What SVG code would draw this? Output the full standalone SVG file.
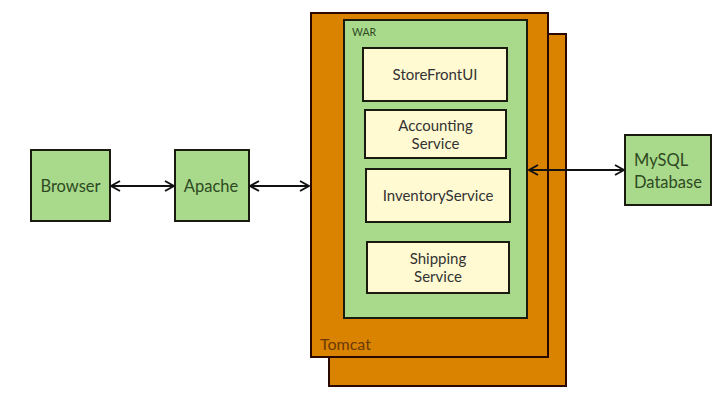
<svg xmlns="http://www.w3.org/2000/svg" width="715" height="418" viewBox="0 0 715 418">
<style>
.tc{fill:#d98300;stroke:#2a0800;stroke-width:2}
.gn{fill:#a9d98b;stroke:#1a1a10;stroke-width:2}
.cr{fill:#fffad2;stroke:#1a1a10;stroke-width:2}
.t{font-family:Lato,"Open Sans",sans-serif;font-size:15px;fill:#333;text-anchor:middle}
.tg{font-family:Lato,"Open Sans",sans-serif;font-size:16.5px;fill:#2e4a22;text-anchor:middle}
.tg.l{text-anchor:start}
.c{stroke:#111;stroke-width:2;fill:none;marker-start:url(#a);marker-end:url(#a)}
</style>
<defs>
<marker id="a" viewBox="0 0 12 12" refX="11" refY="6" markerWidth="12" markerHeight="12" markerUnits="userSpaceOnUse" orient="auto-start-reverse">
<polyline points="2,1 11,6 2,11" fill="none" stroke="#111" stroke-width="2"/>
</marker>
</defs>
<rect width="715" height="418" fill="#fff"/>
<g id="tomcat-back"><rect class="tc" x="329" y="34" width="237" height="352"/></g>
<g id="tomcat"><rect class="tc" x="311" y="13" width="237" height="344"/>
<text x="320" y="350" font-family="Lato,'Open Sans',sans-serif" font-size="16" fill="#6b3a05">Tomcat</text></g>
<g id="war"><rect class="gn" x="344" y="20" width="183" height="298"/>
<text x="352" y="36" font-family="Lato,'Open Sans',sans-serif" font-size="10.5" fill="#2e4a22">WAR</text></g>
<g id="storefront"><rect class="cr" x="363" y="48" width="144" height="53"/><text class="t" x="435" y="80">StoreFrontUI</text></g>
<g id="accounting"><rect class="cr" x="365" y="110" width="141" height="48"/><text class="t" x="435.5" y="131">Accounting</text><text class="t" x="435.5" y="149">Service</text></g>
<g id="inventory"><rect class="cr" x="366" y="169" width="144" height="53"/><text class="t" x="438" y="201">InventoryService</text></g>
<g id="shipping"><rect class="cr" x="367" y="242" width="142" height="51"/><text class="t" x="438" y="264">Shipping</text><text class="t" x="438" y="282">Service</text></g>
<g id="browser"><rect class="gn" x="31" y="150" width="79" height="71"/><text class="tg" x="70.5" y="192">Browser</text></g>
<g id="apache"><rect class="gn" x="175" y="150" width="74" height="71"/><text class="tg" x="211" y="192">Apache</text></g>
<g id="mysql"><rect class="gn" x="625" y="135" width="86" height="70"/><text class="tg l" x="634" y="166">MySQL</text><text class="tg l" x="634" y="188">Database</text></g>
<g id="connectors">
<line class="c" x1="111" y1="186" x2="174" y2="186"/>
<line class="c" x1="250" y1="186" x2="309" y2="186"/>
<line class="c" x1="529" y1="170" x2="624" y2="170"/>
</g>
</svg>
